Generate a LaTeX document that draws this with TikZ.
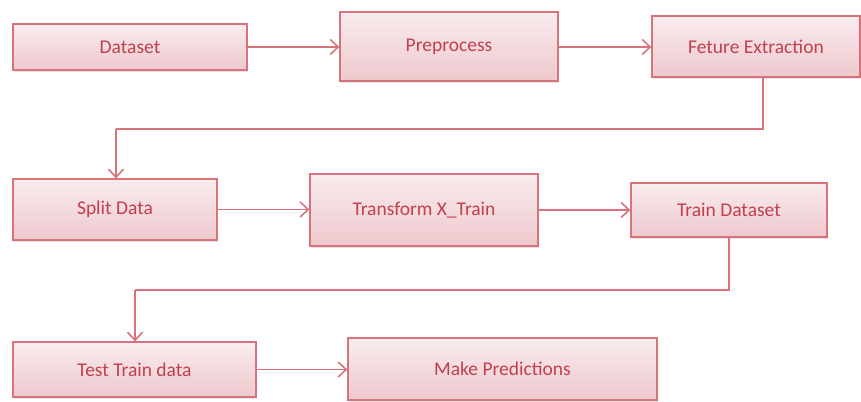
\documentclass[tikz,border=0pt]{standalone}
\usepackage{fontspec}
\setmainfont{Carlito}
\usetikzlibrary{arrows.meta,shadows}
\definecolor{edgered}{HTML}{D8737C}
\definecolor{textred}{HTML}{C23F4E}
\definecolor{filltop}{HTML}{F9ECEE}
\definecolor{fillbot}{HTML}{EEC8CD}
\tikzset{
  stepbox/.style={draw=edgered, line width=1.3bp, top color=filltop, bottom color=fillbot,
    inner sep=0pt, text=textred, font=\fontsize{19.5bp}{22bp}\selectfont,
    drop shadow={opacity=0.18, shadow xshift=1.2bp, shadow yshift=-1.8bp, fill=black!60}},
  flow/.style={draw=edgered, line width=1.6bp,
    -{Straight Barb[length=8bp, width=15bp, line width=1.6bp]}},
  plain/.style={draw=edgered, line width=1.6bp}
}
\begin{document}
\begin{tikzpicture}[x=1bp, y=-1bp]
  \useasboundingbox (0,0) rectangle (861,401);

  % first row
  \node[stepbox, minimum width=234bp, minimum height=46bp] (ds) at (130,47) {Dataset};
  \node[stepbox, minimum width=218bp, minimum height=69bp] (pp) at (449,46.5) {Preprocess};
  \node[stepbox, minimum width=208bp, minimum height=61bp] (fe) at (756,46.5) {Feture Extraction};

  % second row
  \node[stepbox, minimum width=204bp, minimum height=61bp] (sd) at (115,209.5) {Split Data};
  \node[stepbox, minimum width=228bp, minimum height=72bp] (tx) at (424,210) {Transform X\_Train};
  \node[stepbox, minimum width=196bp, minimum height=54bp] (td) at (729,210) {Train Dataset};

  % third row
  \node[stepbox, minimum width=243bp, minimum height=55bp] (tt) at (134.5,369.5) {Test Train data};
  \node[stepbox, minimum width=309bp, minimum height=62bp] (mp) at (502.5,369) {Make Predictions};

  % bends of the row-to-row connectors
  \coordinate (b1) at (116,129);
  \coordinate (b2) at (135,290);

  % connectors
  \draw[flow] (ds.east) -- (ds.east -| pp.west);
  \draw[flow] (pp.east |- ds.east) -- (fe.west |- ds.east);
  \draw[plain] ([xshift=7bp]fe.south) |- (b1);
  \draw[flow] (b1) -- (b1 |- sd.north);
  \draw[flow] (sd.east) -- (sd.east -| tx.west);
  \draw[flow] (tx.east) -- (td.west);
  \draw[plain] (td.south) |- (b2);
  \draw[flow] (b2) -- (b2 |- tt.north);
  \draw[flow] (tt.east) -- (tt.east -| mp.west);
\end{tikzpicture}
\end{document}
